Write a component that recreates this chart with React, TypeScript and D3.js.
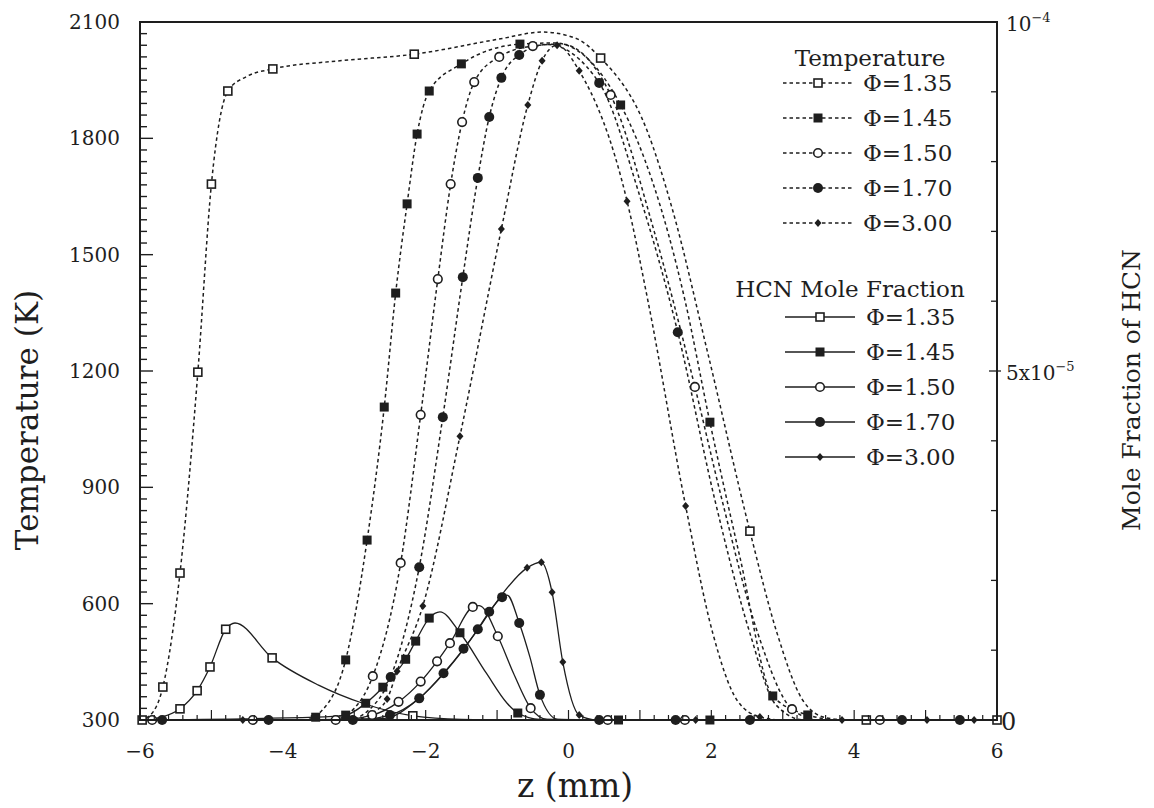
import React from "react";
import * as d3 from "d3";

type Pt = [number, number];

// ---- temperature profiles, z (mm) vs T (K); "marks" carry the symbols, "path" only shapes the curve
const temp135: Pt[] = [[-5.68, 385], [-5.44, 679], [-5.19, 1197], [-5.0, 1682], [-4.77, 1922], [-4.14, 1979], [-2.16, 2017], [0.45, 2007], [2.54, 787]];
const temp135Path: Pt[] = [[-6, 300], [-5.86, 312], [-4.5, 1960], [-3.2, 2000], [-1.0, 2055], [-0.36, 2074], [0.1, 2058], [1.1, 1820], [1.45, 1620], [1.94, 1254], [2.92, 524], [3.28, 351], [3.6, 306], [3.9, 300]];

const temp145: Pt[] = [[-3.12, 455], [-2.82, 764], [-2.58, 1107], [-2.42, 1401], [-2.26, 1631], [-2.12, 1811], [-1.95, 1922], [-1.5, 1992], [-0.68, 2043], [0.73, 1886], [1.98, 1068], [2.86, 362], [3.35, 313]];
const temp145Path: Pt[] = [[-6, 300], [-3.7, 300], [-3.45, 325], [-0.2, 2046], [1.63, 1383], [2.4, 720], [3.8, 300], [6, 300]];

const temp150: Pt[] = [[-2.74, 413], [-2.35, 705], [-2.07, 1087], [-1.83, 1437], [-1.65, 1682], [-1.49, 1842], [-1.32, 1945], [-0.97, 2010], [-0.5, 2038], [0.59, 1912], [1.77, 1159], [3.13, 328]];
const temp150Path: Pt[] = [[-6, 300], [-3.3, 300], [-3.0, 330], [-0.1, 2043], [1.2, 1560], [2.15, 867], [2.65, 524], [3.5, 300], [6, 300]];

const temp170: Pt[] = [[-2.49, 411], [-2.09, 694], [-1.76, 1081], [-1.48, 1442], [-1.27, 1698], [-1.11, 1855], [-0.94, 1956], [-0.69, 2015], [0.43, 1943], [1.53, 1300]];
const temp170Path: Pt[] = [[-6, 300], [-3.1, 300], [-2.8, 325], [-0.3, 2042], [1.0, 1650], [2.05, 867], [2.54, 524], [2.9, 340], [3.3, 300], [6, 300]];

const temp300: Pt[] = [[-2.54, 354], [-2.4, 426], [-2.04, 594], [-1.52, 1032], [-0.94, 1566], [-0.57, 1886], [-0.37, 2000], [-0.16, 2040], [0.15, 1974], [0.82, 1638], [1.64, 852], [2.68, 308]];
const temp300Path: Pt[] = [[-6, 300], [-3.0, 300], [-2.75, 318], [1.11, 1383], [2.02, 524], [2.36, 351], [3.0, 300], [6, 300]];

// ---- HCN mole fraction profiles, z (mm) vs X_HCN
const hcn135: Pt[] = [[-5.97, 0], [-5.44, 0.16e-5], [-5.2, 0.42e-5], [-5.02, 0.76e-5], [-4.8, 1.3e-5], [-4.15, 0.89e-5], [-2.18, 0.06e-5], [4.17, 0], [6, 0]];
const hcn135Path: Pt[] = [[-5.7, 0.04e-5], [-4.67, 1.39e-5], [-3.5, 0.5e-5], [-2.88, 0.24e-5], [-1.5, 0.01e-5], [-0.5, 0]];

const hcn145: Pt[] = [[-3.54, 0.04e-5], [-3.12, 0.07e-5], [-2.84, 0.24e-5], [-2.6, 0.47e-5], [-2.28, 0.87e-5], [-2.14, 1.13e-5], [-1.95, 1.46e-5], [-1.52, 1.25e-5], [-0.71, 0.1e-5], [0.7, 0], [1.98, 0]];
const hcn145Path: Pt[] = [[-6, 0], [-1.8, 1.55e-5], [-1.15, 0.67e-5], [-0.86, 0.24e-5], [-0.4, 0.01e-5], [6, 0]];

const hcn150: Pt[] = [[-5.83, 0], [-4.42, 0], [-3.26, 0], [-2.75, 0.07e-5], [-2.38, 0.26e-5], [-2.07, 0.55e-5], [-1.84, 0.84e-5], [-1.66, 1.1e-5], [-1.34, 1.62e-5], [-0.99, 1.2e-5], [-0.53, 0.17e-5], [0.55, 0], [1.63, 0], [4.36, 0]];
const hcn150Path: Pt[] = [[-6, 0], [-1.25, 1.64e-5], [-0.77, 0.67e-5], [-0.3, 0.01e-5], [6, 0]];

const hcn170: Pt[] = [[-5.69, 0], [-4.2, 0], [-3.02, 0], [-2.5, 0.07e-5], [-2.09, 0.31e-5], [-1.75, 0.67e-5], [-1.47, 1.02e-5], [-1.27, 1.3e-5], [-1.11, 1.55e-5], [-0.93, 1.76e-5], [-0.69, 1.39e-5], [-0.4, 0.36e-5], [0.43, 0], [1.5, 0], [2.54, 0], [4.67, 0], [5.48, 0]];
const hcn170Path: Pt[] = [[-6, 0], [-0.86, 1.79e-5], [-0.54, 0.9e-5], [-0.15, 0.01e-5], [6, 0]];

const hcn300: Pt[] = [[-4.56, 0], [-0.58, 2.18e-5], [-0.38, 2.26e-5], [-0.23, 1.83e-5], [-0.08, 0.83e-5], [0.15, 0.07e-5], [1.78, 0], [3.83, 0], [5.02, 0], [5.68, 0]];
const hcn300Path: Pt[] = [[-6, 0], [-2.6, 0.02e-5], [-2.1, 0.3e-5], [-1.75, 0.66e-5], [-1.45, 1.04e-5], [-1.2, 1.4e-5], [-0.93, 1.8e-5], [0.4, 0], [6, 0]];

const phiLabels = ["Φ=1.35", "Φ=1.45", "Φ=1.50", "Φ=1.70", "Φ=3.00"];
const symbols = ["osq", "fsq", "ocirc", "fcirc", "diam"];
const tempTicks = [300, 600, 900, 1200, 1500, 1800, 2100];
const zTicks = [-6, -4, -2, 0, 2, 4, 6];

const W = 1154;
const H = 808;
const margin = { left: 140, right: 157, top: 22, bottom: 88 };
const INK = "#1e1e1e";
const FONT = "'DejaVu Serif', serif";

const x = d3.scaleLinear().domain([-6, 6]).range([margin.left, W - margin.right]);
const yT = d3.scaleLinear().domain([300, 2100]).range([H - margin.bottom, margin.top]);
const yH = d3.scaleLinear().domain([0, 1e-4]).range([H - margin.bottom, margin.top]);

const tempSeries = [
  { marks: temp135, path: temp135Path },
  { marks: temp145, path: temp145Path },
  { marks: temp150, path: temp150Path },
  { marks: temp170, path: temp170Path },
  { marks: temp300, path: temp300Path },
];
const hcnSeries = [
  { marks: hcn135, path: hcn135Path },
  { marks: hcn145, path: hcn145Path },
  { marks: hcn150, path: hcn150Path },
  { marks: hcn170, path: hcn170Path },
  { marks: hcn300, path: hcn300Path },
];

const merged = (a: Pt[], b: Pt[]) => [...a, ...b].sort((p, q) => p[0] - q[0]);

const Marker = ({ kind, cx, cy }: { kind: string; cx: number; cy: number }) => {
  if (kind === "osq")
    return <rect x={cx - 4} y={cy - 4} width={8} height={8} fill="#fff" stroke={INK} strokeWidth={1.6} />;
  if (kind === "fsq")
    return <rect x={cx - 4.5} y={cy - 4.5} width={9} height={9} fill={INK} />;
  if (kind === "ocirc")
    return <circle cx={cx} cy={cy} r={4.3} fill="#fff" stroke={INK} strokeWidth={1.6} />;
  if (kind === "fcirc")
    return <circle cx={cx} cy={cy} r={5} fill={INK} />;
  return <path d={`M${cx},${cy - 4}L${cx + 3.5},${cy}L${cx},${cy + 4}L${cx - 3.5},${cy}Z`} fill={INK} />;
};

export default function App() {
  const x0 = margin.left;
  const x1 = W - margin.right;
  const y0 = H - margin.bottom;
  const y1 = margin.top;

  const tLine = d3.line<Pt>().x((d) => x(d[0])).y((d) => yT(d[1])).curve(d3.curveMonotoneX);
  const hLine = d3.line<Pt>().x((d) => x(d[0])).y((d) => yH(d[1])).curve(d3.curveMonotoneX);

  const leftTicks = d3.range(300, 2101, 30);
  const bottomTicks = d3.range(-6, 6.001, 0.2).map((v) => Math.round(v * 10) / 10);
  const rightTicks = d3.range(0, 11).map((i) => i * 1e-5);

  return (
    <svg width={W} height={H} style={{ position: "absolute", left: 0, top: 0, background: "#fff" }} fontFamily={FONT}>
      <rect width={W} height={H} fill="#fff" />

      {/* curves */}
      <g fill="none" stroke={INK}>
        {tempSeries.map((s, i) => (
          <path key={"t" + i} d={tLine(merged(s.marks, s.path)) || ""} strokeWidth={1.5} strokeDasharray="3.5,3" />
        ))}
        {hcnSeries.map((s, i) => (
          <path key={"h" + i} d={hLine(merged(s.marks, s.path)) || ""} strokeWidth={1.3} />
        ))}
      </g>

      {/* markers */}
      {tempSeries.map((s, i) =>
        s.marks.map((d, j) => <Marker key={`tm${i}-${j}`} kind={symbols[i]} cx={x(d[0])} cy={yT(d[1])} />)
      )}
      {hcnSeries.map((s, i) =>
        s.marks.map((d, j) => <Marker key={`hm${i}-${j}`} kind={symbols[i]} cx={x(d[0])} cy={yH(d[1])} />)
      )}

      {/* frame */}
      <rect x={x0} y={y1} width={x1 - x0} height={y0 - y1} fill="none" stroke={INK} strokeWidth={2} />

      {/* left axis ticks */}
      {leftTicks.map((v) => (
        <line key={"lt" + v} x1={x0} x2={x0 + (v % 300 === 0 ? 13 : 7)} y1={yT(v)} y2={yT(v)} stroke={INK} strokeWidth={1.4} />
      ))}
      {tempTicks.map((v) => (
        <text key={"ll" + v} x={x0 - 20} y={yT(v) + 7} textAnchor="end" fontSize={20} fill={INK}>
          {v}
        </text>
      ))}

      {/* bottom axis ticks */}
      {bottomTicks.map((v) => {
        const major = Math.abs(v - Math.round(v)) < 1e-6;
        return (
          <line key={"bt" + v} x1={x(v)} x2={x(v)} y1={y0} y2={y0 - (major ? 10 : 5)} stroke={INK} strokeWidth={1.2} />
        );
      })}
      {zTicks.map((v) => (
        <text key={"bl" + v} x={x(v)} y={y0 + 38} textAnchor="middle" fontSize={20} fill={INK}>
          {v < 0 ? "\u2212" + Math.abs(v) : v}
        </text>
      ))}

      {/* right axis ticks */}
      {rightTicks.map((v, i) => (
        <line key={"rt" + i} x1={x1 - (i === 5 ? 8 : 6)} x2={x1 + (i === 5 ? 4 : 0)} y1={yH(v)} y2={yH(v)} stroke={INK} strokeWidth={1.3} />
      ))}
      <text x={x1 + 4} y={yH(0) + 10} fontSize={24} fill={INK}>0</text>
      <text x={x1 + 9} y={yH(5e-5) + 9} fontSize={20} fill={INK}>
        5x10<tspan dy={-9} fontSize={13}>−5</tspan>
      </text>
      <text x={x1 + 9} y={yH(1e-4) + 9} fontSize={20} fill={INK}>
        10<tspan dy={-9} fontSize={13}>−4</tspan>
      </text>

      {/* axis titles */}
      <text transform={`translate(38,420) rotate(-90)`} textAnchor="middle" fontSize={31} fill={INK}>
        Temperature (K)
      </text>
      <text transform={`translate(1140,390) rotate(-90)`} textAnchor="middle" fontSize={25} fill={INK}>
        Mole Fraction of HCN
      </text>
      <text x={575} y={797} textAnchor="middle" fontSize={33} fill={INK}>
        z (mm)
      </text>

      {/* legend: temperature */}
      <text x={870} y={66} textAnchor="middle" fontSize={23} fill={INK}>Temperature</text>
      {phiLabels.map((lab, i) => {
        const cy = 83 + i * 35;
        return (
          <g key={"lgT" + i}>
            <line x1={783} x2={853} y1={cy} y2={cy} stroke={INK} strokeWidth={1.5} strokeDasharray="3.5,3" />
            <Marker kind={symbols[i]} cx={818} cy={cy} />
            <text x={863} y={cy + 8} fontSize={23} fill={INK}>{lab}</text>
          </g>
        );
      })}

      {/* legend: HCN */}
      <text x={850} y={297} textAnchor="middle" fontSize={23} fill={INK}>HCN Mole Fraction</text>
      {phiLabels.map((lab, i) => {
        const cy = 317 + i * 35;
        return (
          <g key={"lgH" + i}>
            <line x1={785} x2={855} y1={cy} y2={cy} stroke={INK} strokeWidth={1.3} />
            <Marker kind={symbols[i]} cx={820} cy={cy} />
            <text x={866} y={cy + 8} fontSize={23} fill={INK}>{lab}</text>
          </g>
        );
      })}
    </svg>
  );
}
